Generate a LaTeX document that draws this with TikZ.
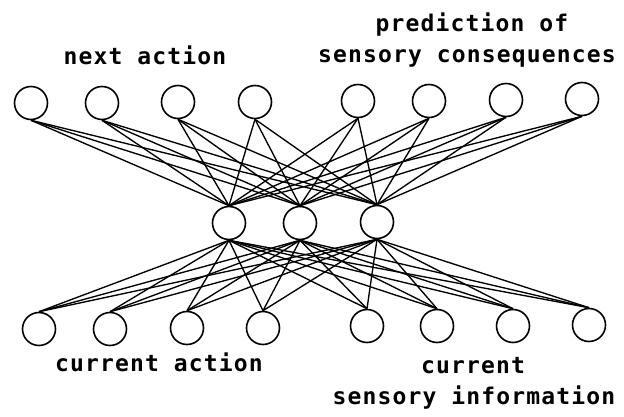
\documentclass[tikz,border=0pt]{standalone}
\usepackage{fontspec}
\newfontfamily\labfont[LetterSpace=5]{DejaVu Sans Mono}
\begin{document}
\begin{tikzpicture}[x=1pt,y=-1pt,
  unit/.style={circle,draw=black,fill=white,line width=1.6pt,minimum size=33pt,inner sep=0pt},
  link/.style={draw=black,line width=1.35pt},
  lab/.style={font=\labfont\bfseries\fontsize{23}{31}\selectfont,inner sep=0pt,anchor=base}]
\useasboundingbox (0,0) rectangle (624,417);
% output units (top)
\node[unit] (t1) at (31,103) {};
\node[unit] (t2) at (102,103) {};
\node[unit] (t3) at (178,102) {};
\node[unit] (t4) at (255,102) {};
\node[unit] (t5) at (358,101) {};
\node[unit] (t6) at (429,101) {};
\node[unit] (t7) at (506,100) {};
\node[unit] (t8) at (582,99) {};
% hidden units
\node[unit] (h1) at (229,223) {};
\node[unit] (h2) at (300,223) {};
\node[unit] (h3) at (377,222) {};
% input units (bottom)
\node[unit] (b1) at (39,329) {};
\node[unit] (b2) at (110,329) {};
\node[unit] (b3) at (187,328) {};
\node[unit] (b4) at (263,328) {};
\node[unit] (b5) at (367,326) {};
\node[unit] (b6) at (437,326) {};
\node[unit] (b7) at (513,326) {};
\node[unit] (b8) at (589,325) {};
% connections
\foreach \i in {1,...,8}{
  \foreach \j in {1,2,3}{
    \path[link] (t\i.south) -- (h\j.north);
    \path[link] (h\j.south) -- (b\i.north);
  }
}
% labels
\node[lab] (lnext) at (145,65) {next action};
\node[lab] (lpred1) at (472,32) {prediction of};
\node[lab] (lpred2) at (467,63) {sensory consequences};
\node[lab] (lcura) at (159,371) {current action};
\node[lab] (lcur1) at (473,373) {current};
\node[lab] (lcur2) at (474,404) {sensory information};
\end{tikzpicture}
\end{document}
